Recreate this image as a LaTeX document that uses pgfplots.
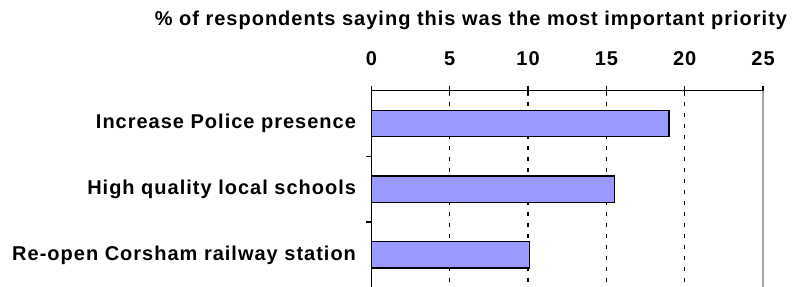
\documentclass[border=0pt]{standalone}
\usepackage{fontspec}
\setmainfont{Liberation Sans}[LetterSpace=5]
\usepackage{pgfplots}
\pgfplotsset{compat=1.18}
\definecolor{barblue}{HTML}{9999FF}
\newcommand{\lblfont}{\bfseries\fontsize{20bp}{23bp}\selectfont}
\begin{document}
\begin{tikzpicture}
\useasboundingbox (0,0) rectangle (794bp,287bp);
\begin{axis}[
  at={(371.5bp,-0.7bp)}, anchor=south west,
  scale only axis, width=391.5bp, height=197bp,
  xbar, bar width=26.4bp,
  xmin=0, xmax=25, ymin=0.5, ymax=3.5, y dir=reverse,
  axis x line*=top, axis y line*=left,
  axis line style={black, line width=1.2bp, -},
  xtick=\empty,
  xticklabel pos=upper,
  major tick length=0pt,
  tick style={black, line width=1.3bp},
  extra x ticks={0,5,10,15,20,25},
  extra x tick style={major tick length=10bp, tick align=center, grid=major},
  extra y ticks={1.5,2.5},
  extra y tick labels={},
  extra y tick style={major tick length=5bp, tick align=outside},
  ytick={1,2,3},
  yticklabels={Increase Police presence, High quality local schools, Re-open Corsham railway station},
  /pgf/number format/assume math mode=true,
  tick label style={font=\lblfont},
  xticklabel style={anchor=base, yshift=20bp},
  yticklabel style={anchor=east, xshift=-12bp},
  major grid style={black, line width=1.3bp, dash pattern=on 4bp off 7bp},
  clip=false,
]
\addplot[fill=barblue, draw=black, line width=1.2bp] coordinates {(19,1) (15.5,2) (10.1,3)};
\draw[gray!70, line width=1.2bp] (rel axis cs:1,0) -- (rel axis cs:1,1);
\node[font=\lblfont, anchor=base] at (rel axis cs:0.254,1.333) {\% of respondents saying this was the most important priority};
\end{axis}
\end{tikzpicture}
\end{document}
